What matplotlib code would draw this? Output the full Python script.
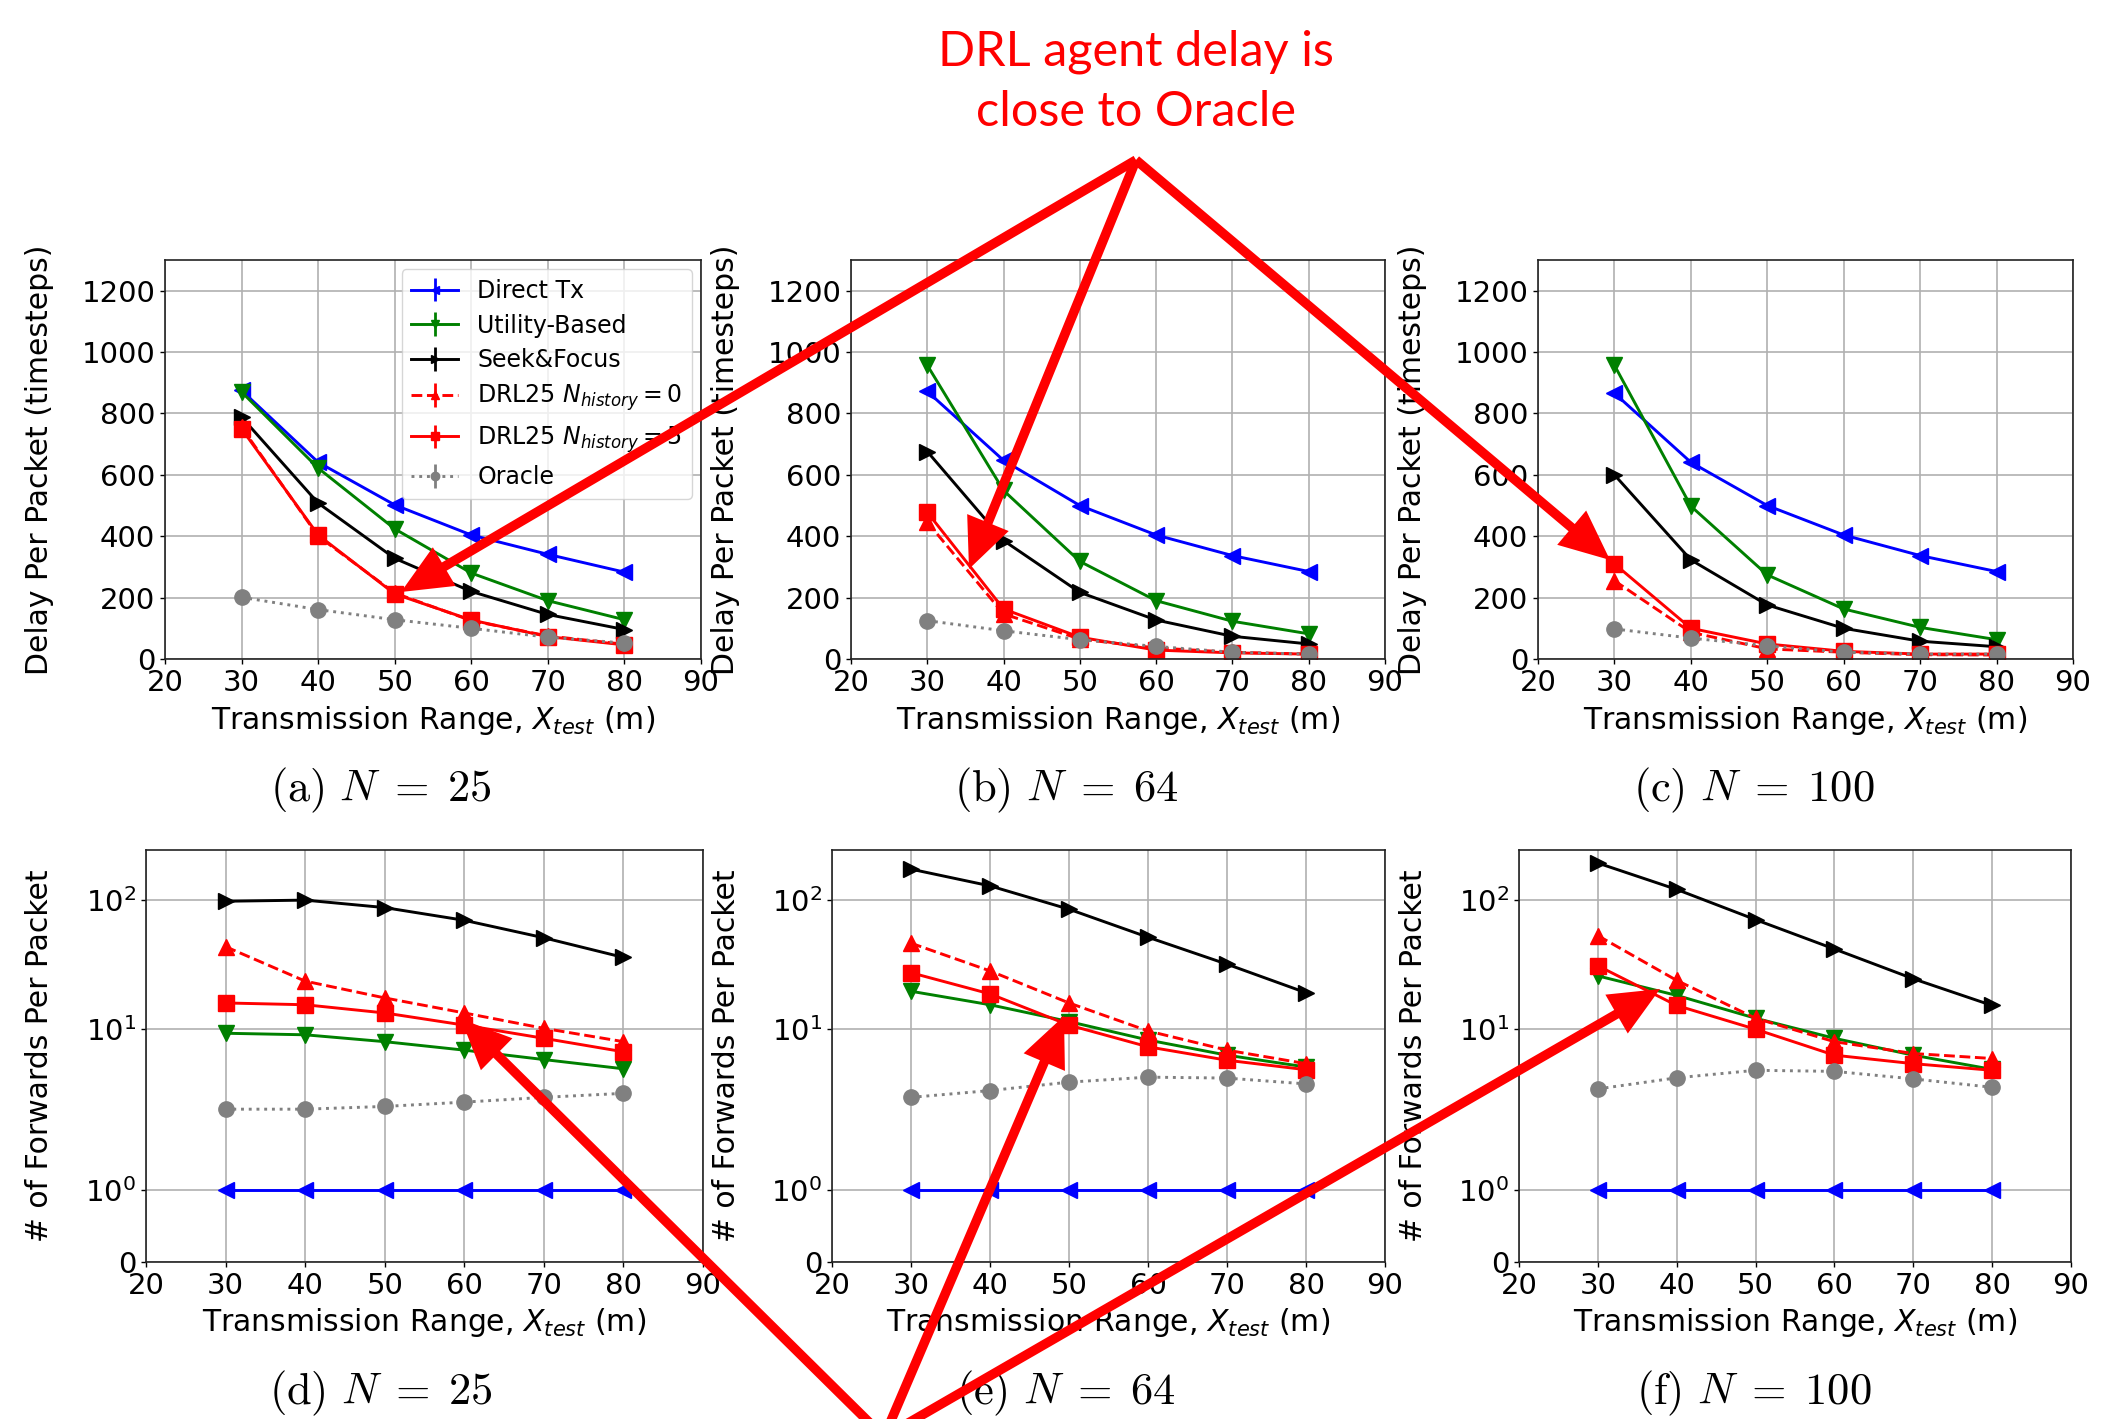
import matplotlib
matplotlib.use('Agg')
import matplotlib.pyplot as plt
from matplotlib.patches import FancyArrowPatch, ArrowStyle
from matplotlib.ticker import NullLocator, FixedLocator, FixedFormatter

W, H = 2125, 1419
DPI = 100

# ---------------- data ----------------
x_range = [30, 40, 50, 60, 70, 80]
x_ticks = [20, 30, 40, 50, 60, 70, 80, 90]
delay_ticks = [0, 200, 400, 600, 800, 1000, 1200]
fwd_ticks = [0, 1, 10, 100]
fwd_tick_labels = ['0', r'$10^0$', r'$10^1$', r'$10^2$']
no_err = [0, 0, 0, 0, 0, 0]

series_labels = ['Direct Tx', 'Utility-Based', 'Seek&Focus',
                 r'DRL25 $N_{history} = 0$', r'DRL25 $N_{history} = 5$', 'Oracle']

# Delay per packet, N = 25
delay25_direct = [875, 641, 502, 404, 341, 283]
delay25_utility = [870, 622, 424, 280, 190, 128]
delay25_seek = [788, 508, 328, 220, 145, 96]
delay25_drl0 = [755, 400, 215, 125, 75, 48]
delay25_drl5 = [750, 404, 212, 127, 73, 46]
delay25_oracle = [201, 161, 128, 100, 71, 52]

# Delay per packet, N = 64
delay64_direct = [872, 647, 500, 404, 337, 285]
delay64_utility = [957, 549, 318, 190, 123, 82]
delay64_seek = [676, 386, 217, 127, 74, 49]
delay64_drl0 = [446, 147, 65, 36, 22, 16]
delay64_drl5 = [478, 163, 71, 29, 20, 16]
delay64_oracle = [125, 92, 63, 41, 22, 16]

# Delay per packet, N = 100
delay100_direct = [866, 641, 500, 404, 337, 285]
delay100_utility = [957, 498, 274, 163, 103, 63]
delay100_seek = [600, 323, 176, 100, 58, 40]
delay100_drl0 = [255, 87, 33, 22, 14, 13]
delay100_drl5 = [310, 100, 49, 25, 16, 16]
delay100_oracle = [98, 68, 43, 22, 16, 16]

# Forwards per packet, N = 25
fwd25_direct = [1, 1, 1, 1, 1, 1]
fwd25_utility = [9.25, 9.0, 7.96, 6.84, 5.78, 4.9]
fwd25_seek = [98, 100, 87.5, 69.7, 51, 35.9]
fwd25_drl0 = [43.5, 23.5, 17.4, 13.3, 10.1, 7.96]
fwd25_drl5 = [15.9, 15.4, 13.3, 10.7, 8.45, 6.64]
fwd25_oracle = [2.38, 2.38, 2.5, 2.7, 2.94, 3.16]

# Forwards per packet, N = 64
fwd64_direct = [1, 1, 1, 1, 1, 1]
fwd64_utility = [19.6, 15.4, 11.4, 8.2, 6.25, 5.06]
fwd64_seek = [174, 129, 85, 51.5, 31.8, 19.1]
fwd64_drl0 = [46.3, 28.2, 15.9, 9.64, 6.84, 5.37]
fwd64_drl5 = [27.3, 18.7, 10.7, 7.26, 5.71, 4.82]
fwd64_oracle = [2.94, 3.32, 3.86, 4.22, 4.15, 3.74]

# Forwards per packet, N = 100
fwd100_direct = [1, 1, 1, 1, 1, 1]
fwd100_utility = [25.8, 18.2, 12.1, 8.45, 6.25, 4.85]
fwd100_seek = [194, 121, 70.5, 41.7, 24.5, 15.2]
fwd100_drl0 = [53, 23.8, 12.1, 7.95, 6.44, 5.89]
fwd100_drl5 = [30.9, 15.2, 9.94, 6.25, 5.37, 4.77]
fwd100_oracle = [3.42, 4.17, 4.77, 4.68, 4.09, 3.52]

captions_top = [r'$\mathrm{(a)}\ N \;=\; 25$', r'$\mathrm{(b)}\ N \;=\; 64$',
                r'$\mathrm{(c)}\ N \;=\; 100$']
captions_bottom = [r'$\mathrm{(d)}\ N \;=\; 25$', r'$\mathrm{(e)}\ N \;=\; 64$',
                   r'$\mathrm{(f)}\ N \;=\; 100$']
annotation_text = 'DRL agent delay is\nclose to Oracle'

# ---------------- styles ----------------
styles = [
    dict(color='#0000ff', marker='<', linestyle='-'),
    dict(color='#008000', marker='v', linestyle='-'),
    dict(color='#000000', marker='>', linestyle='-'),
    dict(color='#ff0000', marker='^', linestyle='--'),
    dict(color='#ff0000', marker='s', linestyle='-'),
    dict(color='#808080', marker='o', linestyle=':'),
]

plt.rcParams['font.family'] = ['DejaVu Sans']
plt.rcParams['font.size'] = 21
plt.rcParams['mathtext.fontset'] = 'dejavusans'

fig = plt.figure(figsize=(W / DPI, H / DPI), dpi=DPI)
fig.patch.set_facecolor('white')


def box(l, t, r, b):
    return [l / W, 1 - b / H, (r - l) / W, (b - t) / H]


def fpt(x, y):
    return (x / W, 1 - y / H)


top_boxes = [(165, 260, 701, 659), (851, 260, 1385, 659), (1538, 260, 2073, 659)]
bottom_boxes = [(146, 850, 703, 1262), (832, 850, 1385, 1262), (1519, 850, 2071, 1262)]

delay_sets = [
    [delay25_direct, delay25_utility, delay25_seek, delay25_drl0, delay25_drl5, delay25_oracle],
    [delay64_direct, delay64_utility, delay64_seek, delay64_drl0, delay64_drl5, delay64_oracle],
    [delay100_direct, delay100_utility, delay100_seek, delay100_drl0, delay100_drl5, delay100_oracle],
]
fwd_sets = [
    [fwd25_direct, fwd25_utility, fwd25_seek, fwd25_drl0, fwd25_drl5, fwd25_oracle],
    [fwd64_direct, fwd64_utility, fwd64_seek, fwd64_drl0, fwd64_drl5, fwd64_oracle],
    [fwd100_direct, fwd100_utility, fwd100_seek, fwd100_drl0, fwd100_drl5, fwd100_oracle],
]

xlabel = r'Transmission Range, $X_{test}$ (m)'
label_size = 21.5


def style_axes(ax):
    ax.grid(True, color='#b0b0b0', linewidth=1.2)
    ax.set_axisbelow(True)
    for s in ax.spines.values():
        s.set_linewidth(1.2)
        s.set_color('#222222')
    ax.tick_params(length=3.5, width=1.0, pad=3.5, labelsize=21)


for i in range(3):
    ax = fig.add_axes(box(*top_boxes[i]))
    for vals, lab, st in zip(delay_sets[i], series_labels, styles):
        ax.errorbar(x_range, vals, yerr=no_err, label=lab, linewidth=2.1,
                    markersize=11, elinewidth=2.0, **st)
    ax.set_xlim(20, 90)
    ax.set_ylim(0, 1300)
    ax.set_xticks(x_ticks)
    ax.set_yticks(delay_ticks)
    style_axes(ax)
    ax.set_xlabel(xlabel, fontsize=label_size)
    ax.set_ylabel('Delay Per Packet (timesteps)', fontsize=label_size)
    ax.yaxis.set_label_coords(-0.207, 0.5)
    ax.xaxis.set_label_coords(0.5, -0.112)
    if i == 0:
        ax.legend(loc='upper right', fontsize=17, markerscale=0.55,
                  handlelength=2.0, labelspacing=0.45, borderaxespad=0.4)
    cx = (top_boxes[i][0] + top_boxes[i][2]) / 2 - 52
    fig.text(*fpt(cx, 790), captions_top[i], fontsize=32, ha='center', va='center',
             math_fontfamily='cm')

for i in range(3):
    ax = fig.add_axes(box(*bottom_boxes[i]))
    ax.set_yscale('symlog', linthresh=2, linscale=1)
    for vals, lab, st in zip(fwd_sets[i], series_labels, styles):
        ax.errorbar(x_range, vals, yerr=no_err, label=lab, linewidth=2.1,
                    markersize=11, elinewidth=2.0, **st)
    ax.set_xlim(20, 90)
    ax.set_ylim(0, 245)
    ax.set_xticks(x_ticks)
    ax.yaxis.set_major_locator(FixedLocator(fwd_ticks))
    ax.yaxis.set_major_formatter(FixedFormatter(fwd_tick_labels))
    ax.yaxis.set_minor_locator(NullLocator())
    style_axes(ax)
    ax.set_xlabel(xlabel, fontsize=label_size)
    ax.set_ylabel('# of Forwards Per Packet', fontsize=label_size)
    ax.yaxis.set_label_coords(-0.165, 0.5)
    ax.xaxis.set_label_coords(0.5, -0.108)
    cx = (top_boxes[i][0] + top_boxes[i][2]) / 2 - 52
    fig.text(*fpt(cx, 1393), captions_bottom[i], fontsize=32, ha='center', va='center',
             math_fontfamily='cm')

# ---------------- annotation ----------------
fig.text(*fpt(1136, 82), annotation_text, color='#ff0000', fontsize=35,
         family=['Lato', 'DejaVu Sans'], ha='center', va='center', linespacing=1.45)

arrow_style = ArrowStyle.Simple(head_length=0.95, head_width=0.85, tail_width=0.18)
top_apex = (1136, 160)
top_tips = [(401, 592), (969, 569), (1610, 560)]
bottom_apex = (884, 1437)
bottom_tips = [(461, 1019), (1064, 1016), (1660, 989)]

for apex, tips in [(top_apex, top_tips), (bottom_apex, bottom_tips)]:
    for tip in tips:
        arr = FancyArrowPatch(fpt(*apex), fpt(*tip), transform=fig.transFigure,
                              arrowstyle=arrow_style, mutation_scale=38,
                              color='#ff0000', shrinkA=0, shrinkB=0, zorder=10,
                              linewidth=0)
        fig.patches.append(arr)

fig.savefig('out.png', dpi=DPI, facecolor='white')
